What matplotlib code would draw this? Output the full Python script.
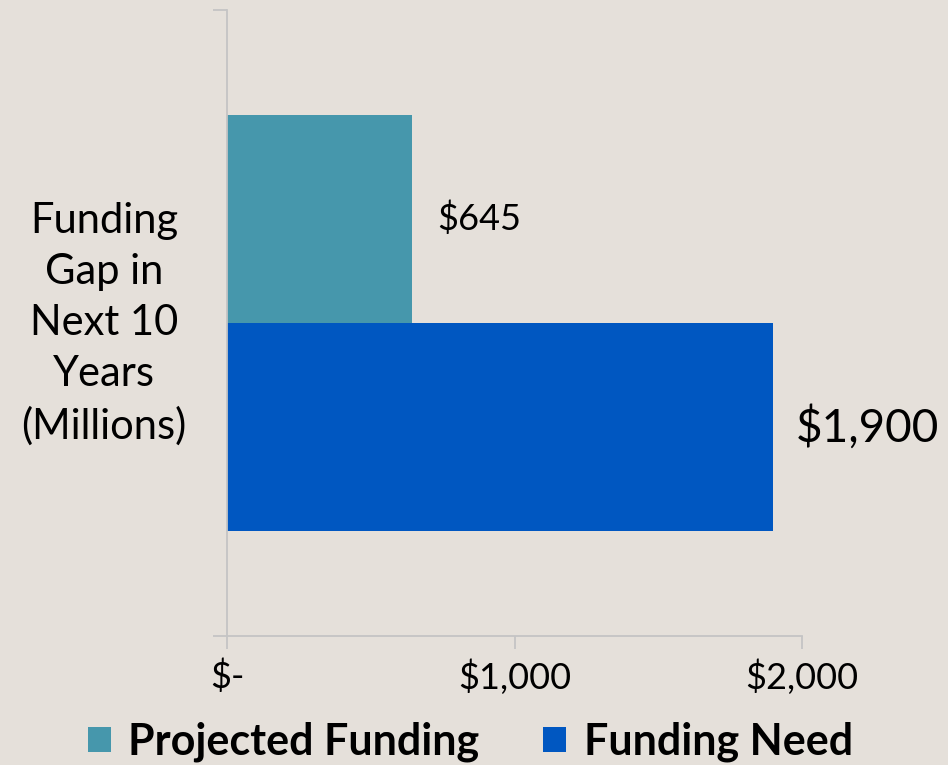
import matplotlib
matplotlib.use("Agg")
import matplotlib.pyplot as plt

# data
series = ["Projected Funding", "Funding Need"]
values = [645, 1900]
value_labels = ["$645", "$1,900"]
xticks = [0, 1000, 2000]
xtick_labels = ["$-", "$1,000", "$2,000"]
ylabel = "Funding\nGap in\nNext 10\nYears\n(Millions)"

bg = "#E5E0DA"
colors = ["#4697AC", "#0057C1"]
axis_col = "#C4C4C4"

plt.rcParams["font.family"] = ["Lato", "DejaVu Sans"]

fig = plt.figure(figsize=(9.48, 7.65), dpi=100, facecolor=bg)
ax = fig.add_axes([227 / 948, 1 - 636 / 765, 575 / 948, 626 / 765])
ax.set_facecolor(bg)

h = 0.332
ypos = [h / 2, -h / 2]
for y, v, c, lab in zip(ypos, values, colors, series):
    ax.barh(y, v, height=h, color=c, label=lab, zorder=2)

ax.annotate(value_labels[0], (values[0], ypos[0]), xytext=(18, 0),
            textcoords="offset points", va="center", ha="left", fontsize=26)
ax.annotate(value_labels[1], (values[1], ypos[1]), xytext=(16, 0),
            textcoords="offset points", va="center", ha="left", fontsize=33)

ax.set_xlim(0, 2000)
ax.set_ylim(-0.5, 0.5)
ax.set_xticks(xticks)
ax.set_xticklabels(xtick_labels, fontsize=26)
ax.set_yticks([-0.5, 0.5])
ax.set_yticklabels([])

for s in ["top", "right"]:
    ax.spines[s].set_visible(False)
for s in ["left", "bottom"]:
    ax.spines[s].set_color(axis_col)
    ax.spines[s].set_linewidth(1.3)
ax.tick_params(axis="x", length=9, width=1.3, color=axis_col, pad=8)
ax.tick_params(axis="y", length=10, width=1.3, color=axis_col)

fig.text(104 / 948, 1 - 324 / 765, ylabel, ha="center", va="center",
         multialignment="center", fontsize=30, linespacing=1.42)

fig.legend(loc="center", bbox_to_anchor=(0.496, 1 - 742 / 765), ncol=2,
           frameon=False, prop={"weight": "bold", "size": 31},
           handlelength=0.53, handleheight=0.53, handletextpad=0.4,
           columnspacing=1.5, borderaxespad=0, borderpad=0)

fig.savefig("out.png", dpi=100, facecolor=bg)
